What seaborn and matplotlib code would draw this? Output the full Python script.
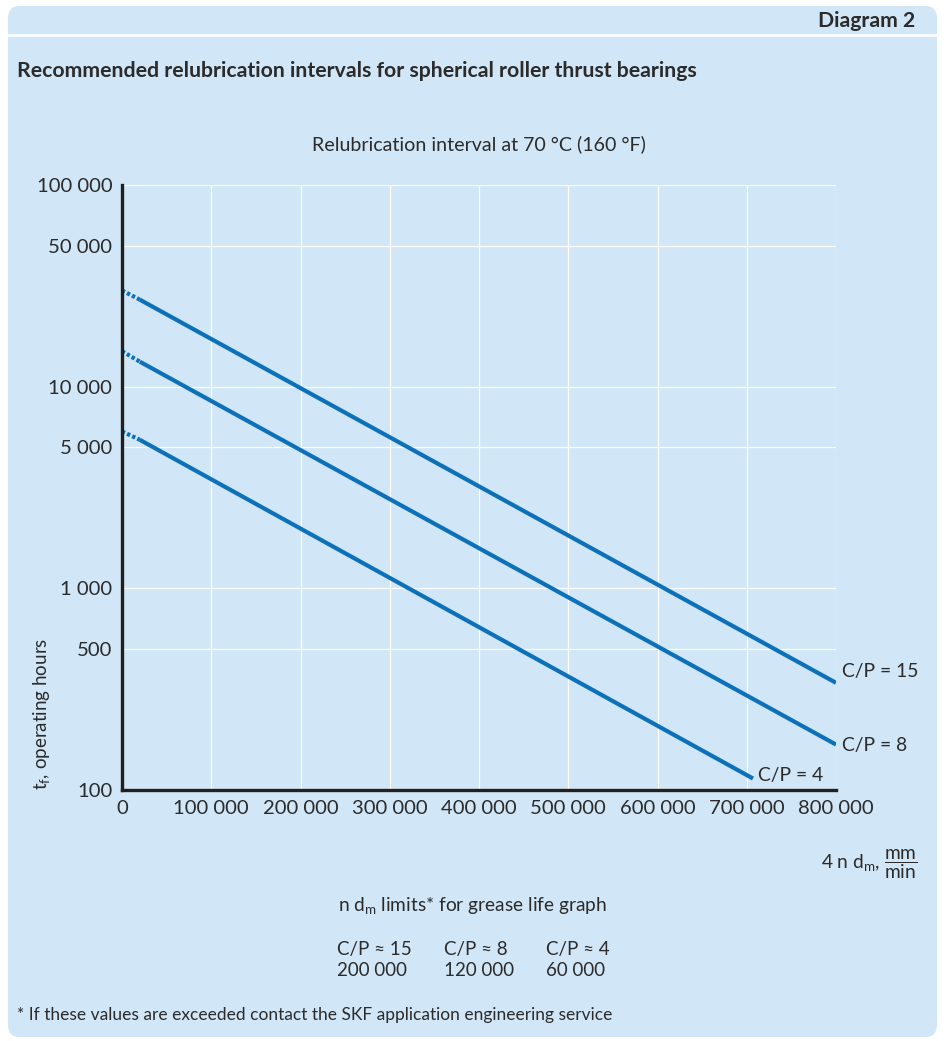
import numpy as np
import pandas as pd
import matplotlib
matplotlib.use("Agg")
import matplotlib.pyplot as plt
import seaborn as sns
from matplotlib.patches import FancyBboxPatch
from matplotlib.lines import Line2D

# ------------------------------------------------------------------
# Data
# ------------------------------------------------------------------
series_labels = ["C/P = 15", "C/P = 8", "C/P = 4"]

# dotted lead-in near zero speed
dash_x = [0, 20000]
dash_y_15 = [30000, 27000]
dash_y_8 = [15000, 13300]
dash_y_4 = [6000, 5450]

# solid part
solid_x_15 = [20000, 800000]
solid_y_15 = [27000, 340]
solid_x_8 = [20000, 800000]
solid_y_8 = [13300, 168]
solid_x_4 = [20000, 707000]
solid_y_4 = [5450, 114]

x_ticks = [0, 100000, 200000, 300000, 400000, 500000, 600000, 700000, 800000]
x_tick_labels = ["0", "100 000", "200 000", "300 000", "400 000",
                 "500 000", "600 000", "700 000", "800 000"]
y_ticks = [100, 500, 1000, 5000, 10000, 50000, 100000]
y_tick_labels = ["100", "500", "1 000", "5 000", "10 000", "50 000", "100 000"]

limit_labels = ["C/P ≈ 15", "C/P ≈ 8", "C/P ≈ 4"]
limit_values = ["200 000", "120 000", "60 000"]

# ------------------------------------------------------------------
# Style
# ------------------------------------------------------------------
sns.set_theme(style="white")
plt.rcParams["font.family"] = ["Lato", "DejaVu Sans"]
plt.rcParams["mathtext.fontset"] = "custom"
plt.rcParams["mathtext.rm"] = "Lato"
plt.rcParams["mathtext.it"] = "Lato:italic"
plt.rcParams["mathtext.bf"] = "Lato:bold"

PANEL = "#d1e6f6"
BLUE = "#0c71b8"
TEXT = "#2b2b2b"
AXIS = "#231f20"

W, H = 944, 1041
fig = plt.figure(figsize=(W / 100, H / 100), dpi=100)
fig.patch.set_facecolor("white")


def fx(px):
    return px / W


def fy(py):
    return 1 - py / H


# background panel (kept behind the axes)
panel = FancyBboxPatch((fx(8), fy(1037)), fx(937) - fx(8), fy(6) - fy(1037),
                       boxstyle="round,pad=0,rounding_size=0.012",
                       transform=fig.transFigure, facecolor=PANEL,
                       edgecolor="none", zorder=-2)
fig.patches.append(panel)
fig.lines.append(Line2D([fx(8), fx(937)], [fy(35), fy(35)],
                        transform=fig.transFigure, color="white", lw=1.8,
                        zorder=-1))

fig.text(fx(915), fy(21), "Diagram 2", ha="right", va="center",
         fontsize=15.3, fontweight="bold", color=TEXT)
fig.text(fx(17), fy(71), "Recommended relubrication intervals for spherical roller thrust bearings",
         ha="left", va="center", fontsize=15.3, fontweight="bold", color=TEXT)

# ------------------------------------------------------------------
# Axes
# ------------------------------------------------------------------
ax = fig.add_axes([fx(122), fy(790), fx(836) - fx(122), fy(185) - fy(790)])
ax.set_facecolor("none")

lw = 3.0
dash_style = (0, (0.8, 0.55))
for dy, sx, sy in [(dash_y_15, solid_x_15, solid_y_15),
                   (dash_y_8, solid_x_8, solid_y_8),
                   (dash_y_4, solid_x_4, solid_y_4)]:
    sns.lineplot(x=dash_x, y=dy, ax=ax, color=BLUE, linewidth=lw,
                 linestyle=dash_style, zorder=3)
    sns.lineplot(x=sx, y=sy, ax=ax, color=BLUE, linewidth=lw,
                 solid_capstyle="butt", zorder=3)

ax.set_yscale("log")
ax.set_xlim(0, 800000)
ax.set_ylim(100, 100000)
ax.set_xticks(x_ticks)
ax.set_xticklabels(x_tick_labels)
ax.set_yticks(y_ticks)
ax.set_yticklabels(y_tick_labels)
ax.yaxis.set_minor_locator(matplotlib.ticker.NullLocator())

ax.grid(True, which="major", color="white", linewidth=0.9)
ax.set_axisbelow(True)

for side in ["top", "right"]:
    ax.spines[side].set_visible(False)
for side in ["left", "bottom"]:
    ax.spines[side].set_color(AXIS)
    ax.spines[side].set_linewidth(2.4)
    ax.spines[side].set_zorder(4)

ax.tick_params(axis="both", which="major", direction="out", length=4,
               width=1.0, color=AXIS, labelsize=14.6, labelcolor=TEXT, pad=3)

ax.set_title("Relubrication interval at 70 °C (160 °F)", fontsize=14.1,
             color=TEXT, pad=25)
ax.set_ylabel(r"t$_\mathrm{f}$, operating hours", fontsize=13.5, color=TEXT,
              loc="bottom")
ax.yaxis.set_label_coords(fx(52 - 122) / (fx(836) - fx(122)), 0)

# curve labels at the line ends
ends = [(solid_x_15[-1], solid_y_15[-1], (4.5, 8)),
        (solid_x_8[-1], solid_y_8[-1], (4.5, -1)),
        (solid_x_4[-1], solid_y_4[-1], (3.5, 2.5))]
for label, (ex, ey, off) in zip(series_labels, ends):
    ax.annotate(label, xy=(ex, ey), xytext=off, textcoords="offset points",
                ha="left", va="center", fontsize=13.9, color=TEXT,
                annotation_clip=False)

# x axis label (right, below the axis)
fig.text(fx(918), fy(864), r"4 n d$_\mathrm{m}$, $\dfrac{\mathrm{mm}}{\mathrm{min}}$",
         ha="right", va="center", fontsize=13.8, color=TEXT)

# grease life limits
fig.text(fx(473), fy(906), r"n d$_\mathrm{m}$ limits* for grease life graph",
         ha="center", va="center", fontsize=13.8, color=TEXT)
col_x = [337, 444, 546]
for cx, lab, val in zip(col_x, limit_labels, limit_values):
    fig.text(fx(cx), fy(950), lab, ha="left", va="center", fontsize=13.5, color=TEXT)
    fig.text(fx(cx), fy(971), val, ha="left", va="center", fontsize=13.5, color=TEXT)

fig.text(fx(17), fy(1015),
         "* If these values are exceeded contact the SKF application engineering service",
         ha="left", va="center", fontsize=12.5, color=TEXT)

plt.savefig("out.png", dpi=100)
plt.close()
